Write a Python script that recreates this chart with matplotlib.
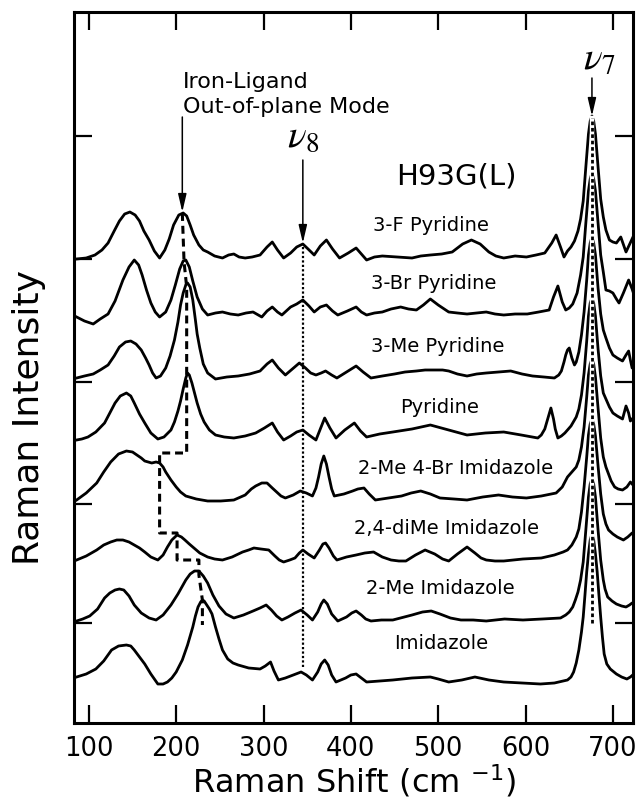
import matplotlib
matplotlib.use('Agg')
import matplotlib.pyplot as plt

# spectra: (Raman shift cm-1, height above own baseline)
pyr_3f = [(86,0),(97,1),(107,4),(115,9),(122,16),(129,28),(135,38),(141,45),(147,47),(153,44),(158,38),(163,28),
          (169,19),(175,8),(181,1),(187,9),(192,20),(197,34),(203,44),(208,46),(212,43),(216,34),(220,24),(226,14),
          (231,9),(236,7),(244,3),(253,1),(260,4),(266,5),(272,2),(279,1),(287,2),(296,4),(304,12),(310,17),
          (316,9),(323,1),(331,6),(338,12),(345,15),(351,10),(358,4),(365,13),(372,19),(379,10),(387,1),(397,6),
          (406,11),(412,5),(418,-1),(427,2),(436,3),(453,2),(470,1),(480,3),(491,4),(504,5),(516,7),(528,15),
          (538,19),(548,15),(558,7),(566,3),(575,1),(588,3),(601,2),(612,4),(622,6),(630,16),(635,24),(640,12),
          (644,2),(648,8),(652,12),(656,18),(660,28),(663,40),(666,58),(669,92),(672,125),(674,138),(676,143),
          (678,138),(680,125),(683,92),(686,60),(689,42),(692,29),(696,19),(700,17),(704,16),(709,22),(715,7),(723,22)]
pyr_3br = [(86,0),(95,-4),(105,-7),(113,-2),(122,3),(130,16),(139,37),(146,50),(152,57),(157,52),(161,42),(166,27),
           (171,14),(176,5),(181,0),(188,5),(194,17),(199,32),(204,48),(208,56),(211,57),(215,50),(219,36),(224,20),
           (230,8),(236,2),(245,4),(253,5),(262,3),(271,2),(280,4),(288,5),(298,0),(304,6),(310,10),(316,5),
           (321,2),(331,10),(338,13),(345,17),(352,11),(358,5),(365,10),(372,12),(379,6),(385,2),(396,6),(406,10),
           (412,5),(418,2),(427,4),(436,5),(446,8),(457,10),(466,8),(475,7),(483,12),(491,18),(500,12),(512,5),
           (522,4),(533,3),(544,4),(555,5),(565,3),(575,2),(588,3),(602,3),(615,5),(627,7),(632,20),(637,31),
           (642,15),(646,7),(650,9),(654,13),(659,24),(663,42),(666,60),(669,94),(672,126),(674,138),(676,144),
           (678,138),(680,126),(683,94),(686,62),(689,45),(692,27),(696,26),(700,24),(704,18),(707,14),(712,24),
           (718,37),(722,28),(725,20)]
pyr_3me = [(86,2),(95,4),(105,6),(113,10),(122,15),(129,24),(135,33),(142,38),(148,39),(154,36),(160,30),(165,22),
           (169,15),(173,7),(177,2),(182,4),(188,12),(193,24),(198,40),(202,58),(205,75),(208,87),(211,95),(213,97),
           (216,93),(219,80),(222,60),(224,46),(227,32),(231,16),(236,7),(245,1),(258,3),(271,4),(284,6),(296,9),
           (304,16),(310,20),(317,12),(325,5),(333,11),(341,17),(348,12),(354,7),(360,5),(366,7),(371,9),(378,5),
           (384,2),(395,8),(406,14),(414,8),(423,2),(436,4),(450,6),(462,8),(475,9),(485,10),(495,10),(505,10),
           (512,9),(522,6),(533,4),(544,6),(555,7),(569,8),(583,9),(596,6),(608,4),(621,3),(633,2),(638,5),
           (641,9),(644,18),(646,25),(648,30),(650,32),(653,22),(656,15),(658,18),(661,28),(664,45),(667,68),
           (670,100),(672,125),(674,137),(676,143),(678,137),(680,125),(683,92),(686,66),(689,50),(692,42),
           (696,32),(700,25),(705,22),(711,19),(715,25),(718,29),(720,20),(722,12),(725,19)]
pyridine = [(86,1),(92,2),(99,4),(108,9),(118,18),(124,28),(130,38),(136,45),(143,48),(148,45),(152,38),(158,27),
            (164,18),(171,8),(179,2),(186,4),(194,11),(198,19),(202,30),(205,40),(208,52),(211,63),(213,68),
            (215,66),(218,58),(221,48),(224,38),(228,27),(232,19),(238,11),(245,6),(255,4),(266,3),(279,5),
            (291,8),(301,13),(310,18),(316,9),(323,1),(331,5),(338,9),(345,11),(352,6),(360,1),(365,12),(370,23),
            (376,13),(383,3),(393,11),(404,18),(411,10),(418,4),(433,7),(448,9),(470,12),(491,16),(512,11),
            (533,6),(554,8),(575,9),(595,6),(614,3),(618,6),(622,12),(626,24),(629,33),(632,22),(634,12),(637,3),
            (641,5),(645,8),(652,15),(658,24),(661,32),(664,46),(667,68),(670,100),(672,125),(674,138),(676,143),
            (678,138),(680,125),(683,92),(686,65),(689,48),(692,42),(696,34),(700,28),(705,25),(711,22),(715,35),
            (718,28),(720,20),(725,25)]
im_2me4br = [(86,2),(97,9),(109,19),(117,30),(125,40),(134,48),(143,51),(150,50),(155,47),(160,44),(164,41),
             (168,40),(172,39),(177,40),(181,39),(185,35),(188,30),(194,22),(200,15),(205,10),(211,6),(223,3),
             (236,1),(251,1),(266,2),(279,7),(286,13),(291,16),(298,19),(304,19),(310,14),(315,10),(320,6),
             (325,4),(334,7),(342,11),(349,9),(356,6),(360,14),(363,25),(366,38),(369,46),(372,38),(375,25),
             (378,13),(381,6),(392,8),(402,11),(408,13),(415,14),(421,8),(428,2),(443,4),(458,6),(469,9),(480,11),
             (491,8),(502,4),(518,3),(533,2),(551,5),(569,7),(585,5),(601,4),(618,6),(635,9),(642,15),(648,25),
             (653,30),(658,35),(661,42),(664,55),(667,75),(670,105),(672,127),(674,138),(676,143),(678,138),
             (680,125),(683,94),(686,64),(689,45),(692,35),(695,28),(698,21),(702,15),(706,13),(711,12),(716,15),
             (720,20),(725,15)]
im_24dime = [(86,2),(97,6),(109,12),(117,17),(125,20),(132,22),(139,22),(146,20),(152,17),(158,14),(164,10),
             (171,5),(179,2),(185,7),(190,15),(195,22),(201,27),(206,25),(210,22),(215,18),(219,15),(227,9),
             (236,5),(244,3),(253,2),(264,5),(276,10),(283,12),(289,14),(297,13),(306,12),(313,6),(318,2),
             (323,0),(330,2),(336,4),(341,9),(345,12),(351,8),(358,4),(364,12),(368,18),(371,19),(375,14),
             (380,6),(384,2),(395,5),(406,7),(416,9),(426,10),(436,5),(446,2),(455,1),(463,1),(474,7),(485,12),
             (496,8),(505,3),(512,1),(522,8),(533,15),(542,9),(549,4),(555,2),(565,1),(575,1),(597,3),(618,4),
             (633,7),(643,10),(648,12),(653,17),(658,25),(661,33),(664,50),(667,75),(670,105),(672,127),(674,138),
             (676,143),(678,138),(680,126),(683,96),(686,68),(689,48),(692,38),(695,32),(700,28),(705,25),
             (712,22),(717,25),(722,29),(725,25)]
im_2me = [(86,1),(93,3),(101,6),(110,13),(118,24),(124,29),(130,32),(135,33),(140,32),(146,26),(152,17),(160,9),
          (169,4),(177,2),(185,7),(194,17),(202,28),(211,42),(216,48),(221,51),(226,51),(231,46),(236,39),
          (242,27),(249,16),(257,8),(266,4),(277,7),(288,11),(296,14),(303,17),(309,12),(315,6),(321,2),(328,5),
          (336,9),(343,12),(350,7),(356,2),(362,10),(366,18),(369,22),(373,18),(378,8),(385,1),(395,5),(401,9),
          (406,11),(412,7),(417,3),(423,1),(435,2),(448,2),(470,7),(482,10),(492,11),(502,8),(514,4),(526,2),
          (540,2),(555,1),(576,3),(597,2),(619,3),(640,4),(646,7),(650,10),(654,15),(657,22),(660,30),(663,42),
          (666,60),(669,92),(672,125),(674,138),(676,143),(678,138),(680,125),(683,92),(686,62),(689,42),
          (691,33),(694,25),(699,21),(704,18),(710,16),(715,15),(719,17),(722,19),(725,17)]
imidazole = [(86,0),(97,3),(108,8),(117,16),(126,27),(134,31),(143,32),(148,31),(152,27),(158,20),(164,13),
             (171,3),(179,-7),(185,-7),(190,-5),(195,-1),(200,5),(207,17),(213,32),(219,50),(222,61),(225,70),
             (228,75),(230,77),(232,76),(235,72),(238,68),(241,63),(245,50),(249,38),(253,27),(259,18),(265,14),
             (271,12),(283,9),(296,8),(302,11),(308,15),(312,6),(317,-3),(325,-1),(334,2),(343,5),(349,2),
             (356,-3),(362,5),(366,13),(370,17),(374,12),(378,2),(383,-5),(394,-1),(400,2),(406,3),(412,-1),
             (418,-5),(433,-4),(448,-3),(470,-1),(491,0),(500,-2),(512,-5),(527,-3),(542,0),(558,-3),(575,-5),
             (596,-6),(617,-7),(633,-6),(648,-3),(652,0),(655,5),(658,14),(661,27),(664,45),(666,60),(668,82),
             (670,105),(672,123),(674,137),(676,143),(678,137),(680,123),(682,105),(684,82),(686,60),(688,40),
             (690,23),(693,13),(697,8),(704,3),(710,0),(716,-2),(720,0),(724,3)]

spectra = [pyr_3f, pyr_3br, pyr_3me, pyridine, im_2me4br, im_24dime, im_2me, imidazole]
names = ['3-F Pyridine', '3-Br Pyridine', '3-Me Pyridine', 'Pyridine',
         '2-Me 4-Br Imidazole', '2,4-diMe Imidazole', '2-Me Imidazole', 'Imidazole']
offsets = [464, 406, 343, 282, 221, 161, 101, 46]
label_x = [492, 495, 499, 502, 520, 509, 502, 503]

# dashed guide joining the iron-ligand peaks
fe_x = [207, 209, 212, 212, 181, 181, 201, 201, 226, 226, 230, 230]
fe_y = [510, 461, 436, 270, 270, 190, 190, 163, 163, 148, 123, 98]

ytick_pos = [100, 219, 341, 464, 587]
xtick_pos = [100, 200, 300, 400, 500, 600, 700]

fig = plt.figure(figsize=(6.39, 8.01), dpi=100)
ax = fig.add_axes([74/639, 1-723/801, 559/639, 711/801])

for sp, off, name, lx in zip(spectra, offsets, names, label_x):
    xs = [p[0] for p in sp]
    ys = [p[1] + off for p in sp]
    ax.plot(xs, ys, color='black', lw=2.0, solid_joinstyle='round', zorder=3)
    ax.text(lx, off + 28, name, fontsize=14, ha='center', va='baseline', zorder=4)

# nu7 guide through the stacked peaks
ax.plot([676, 676], [100, 605], color='white', lw=3.2, zorder=5)
ax.plot([676, 676], [100, 605], color='black', lw=2, dashes=(1.3, 1.0), zorder=6)
# nu8 dotted guide
ax.plot([345, 345], [56, 479], color='black', lw=1.6, dashes=(1, 1), zorder=2)
# iron-ligand peak guide
ax.plot(fe_x, fe_y, color='black', lw=2.2, dashes=(2.6, 1.6), zorder=2)

arrow = dict(arrowstyle='-|>,head_length=0.6,head_width=0.14', color='black', lw=1.1,
             mutation_scale=18, shrinkA=0, shrinkB=0)
ax.annotate('', xy=(207, 511), xytext=(207, 606), arrowprops=arrow, zorder=6)
ax.annotate('', xy=(345, 480), xytext=(345, 563), arrowprops=arrow, zorder=6)
ax.annotate('', xy=(676, 607), xytext=(676, 645), arrowprops=arrow, zorder=7)

ax.text(208, 635, 'Iron-Ligand', fontsize=16, ha='left', va='baseline')
ax.text(208, 610, 'Out-of-plane Mode', fontsize=16, ha='left', va='baseline')
ax.text(345, 576, r'$\nu_8$', fontsize=28, ha='center', va='baseline', math_fontfamily='stix')
ax.text(684, 653, r'$\nu_7$', fontsize=28, ha='center', va='baseline', math_fontfamily='stix')
ax.text(521, 538, 'H93G(L)', fontsize=21, ha='center', va='baseline')

ax.set_xlim(83, 723)
ax.set_ylim(0, 711)
ax.set_xticks(xtick_pos)
ax.set_yticks(ytick_pos)
ax.set_yticklabels([])
ax.tick_params(direction='in', length=13, width=1.6, top=True, right=True, labelsize=18.5, pad=9)
for s in ax.spines.values():
    s.set_linewidth(2.2)

ax.set_xlabel(r'Raman Shift (cm $^{-1}$)', fontsize=23, labelpad=1)
ax.set_ylabel('Raman Intensity', fontsize=26)
ax.yaxis.set_label_coords(-0.05, 0.43)

fig.savefig('out.png', dpi=100)
